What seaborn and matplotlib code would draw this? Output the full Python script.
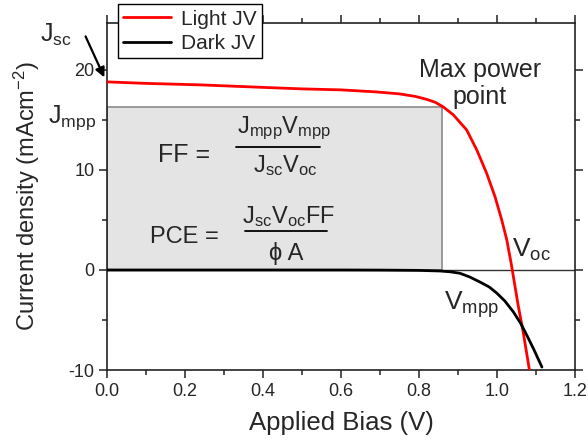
import matplotlib
matplotlib.use("Agg")
import matplotlib.pyplot as plt
from matplotlib.patches import Rectangle
from matplotlib.ticker import MultipleLocator, FormatStrFormatter
import pandas as pd
import seaborn as sns

# Light JV curve (V, mA/cm2)
light_v = [0.0, 0.1, 0.24, 0.4, 0.5, 0.6, 0.69, 0.75, 0.79, 0.82, 0.842, 0.862,
           0.888, 0.922, 0.948, 0.973, 0.995, 1.012, 1.025, 1.036,
           1.054, 1.067, 1.083]
light_j = [18.8, 18.65, 18.5, 18.25, 18.1, 18.0, 17.8, 17.6, 17.35, 17.05, 16.75, 16.3,
           15.5, 14.0, 12.0, 9.7, 7.3, 5.0, 3.0, 0.7,
           -3.5, -6.2, -10.0]

# Dark JV curve
dark_v = [0.0, 0.2, 0.4, 0.6, 0.7, 0.8, 0.854, 0.88, 0.905, 0.93, 0.956,
          0.98, 0.999, 1.02, 1.042, 1.06, 1.076, 1.095, 1.115]
dark_j = [0.0, 0.0, 0.0, 0.0, -0.01, -0.04, -0.1, -0.18, -0.33, -0.7, -1.2,
          -1.7, -2.3, -3.1, -4.2, -5.3, -6.5, -8.0, -9.7]

# key points
j_sc = 18.8
j_mpp = 16.3
v_mpp = 0.86

df = pd.concat([
    pd.DataFrame({"V": light_v, "J": light_j, "curve": "Light JV"}),
    pd.DataFrame({"V": dark_v, "J": dark_j, "curve": "Dark JV"}),
])

sns.set_style("ticks")
plt.rcParams["font.family"] = ["Liberation Sans", "DejaVu Sans"]
plt.rcParams["mathtext.default"] = "regular"
plt.rcParams["axes.unicode_minus"] = False

fig = plt.figure(figsize=(5.88, 4.48), dpi=100)
ax = fig.add_axes([0.182, 0.174, 0.796, 0.775])

# shaded max-power rectangle
ax.add_patch(Rectangle((0, 0), v_mpp, j_mpp, facecolor="#e4e4e4",
                       edgecolor="#8a8a8a", lw=1.2, zorder=1))
ax.axhline(0, color="#333333", lw=1.0, zorder=2)

sns.lineplot(data=df, x="V", y="J", hue="curve", estimator=None, sort=False,
             palette={"Light JV": "#ff0000", "Dark JV": "black"},
             linewidth=2.0, ax=ax, zorder=3)

ax.set_xlim(0, 1.2)
ax.set_ylim(-10, 24.7)
ax.xaxis.set_major_locator(MultipleLocator(0.2))
ax.xaxis.set_minor_locator(MultipleLocator(0.1))
ax.xaxis.set_major_formatter(FormatStrFormatter("%.1f"))
ax.yaxis.set_major_locator(MultipleLocator(10))
ax.yaxis.set_minor_locator(MultipleLocator(5))
ax.tick_params(which="both", direction="out", top=True, right=True,
               color="#222222", width=1.1)
ax.tick_params(which="major", length=6, labelsize=13, pad=3)
ax.tick_params(which="minor", length=3.5)
for s in ax.spines.values():
    s.set_linewidth(1.2)
    s.set_color("#222222")

ax.set_xlabel("Applied Bias (V)", fontsize=18.5, labelpad=8)
ax.set_ylabel("Current density (mAcm$^{-2}$)", fontsize=17)
ax.yaxis.set_label_coords(-0.139, 0.5)

leg = ax.legend(loc="upper left", bbox_to_anchor=(0.2, 0.99),
                bbox_transform=fig.transFigure, fontsize=15, frameon=True,
                fancybox=False, framealpha=1, edgecolor="black",
                handlelength=2.3, borderpad=0.25, labelspacing=0.25,
                handletextpad=0.5, borderaxespad=0)
leg.get_frame().set_linewidth(1.0)
leg.set_zorder(10)

# Jsc arrow and labels
ax.annotate("", xy=(-0.004, j_sc + 0.2), xytext=(-0.058, 23.6),
            arrowprops=dict(arrowstyle="-|>", color="black", lw=1.6,
                            mutation_scale=14),
            annotation_clip=False)
ax.text(-0.172, 22.8, "J$_{sc}$", fontsize=18, clip_on=False)
ax.text(-0.151, 14.7, "J$_{mpp}$", fontsize=18, clip_on=False)
ax.text(0.956, 18.6, "Max power\npoint", fontsize=18, ha="center", va="center",
        linespacing=1.15)
ax.text(1.038, 1.3, "V$_{oc}$", fontsize=19)
ax.text(0.864, -4.0, "V$_{mpp}$", fontsize=19)

# formulas inside the box
ax.text(0.131, 10.8, "FF =", fontsize=18)
ax.text(0.454, 13.7, "J$_{mpp}$V$_{mpp}$", fontsize=17, ha="center")
ax.plot([0.331, 0.546], [12.3, 12.3], color="black", lw=1.3)
ax.text(0.456, 9.8, "J$_{sc}$V$_{oc}$", fontsize=17, ha="center")

ax.text(0.110, 2.7, "PCE =", fontsize=17)
ax.text(0.465, 4.7, "J$_{sc}$V$_{oc}$FF", fontsize=17, ha="center")
ax.plot([0.354, 0.563], [3.9, 3.9], color="black", lw=1.3)
ax.text(0.46, 1.0, "ϕ A", fontsize=17, ha="center")

fig.savefig("out.png", dpi=100)
